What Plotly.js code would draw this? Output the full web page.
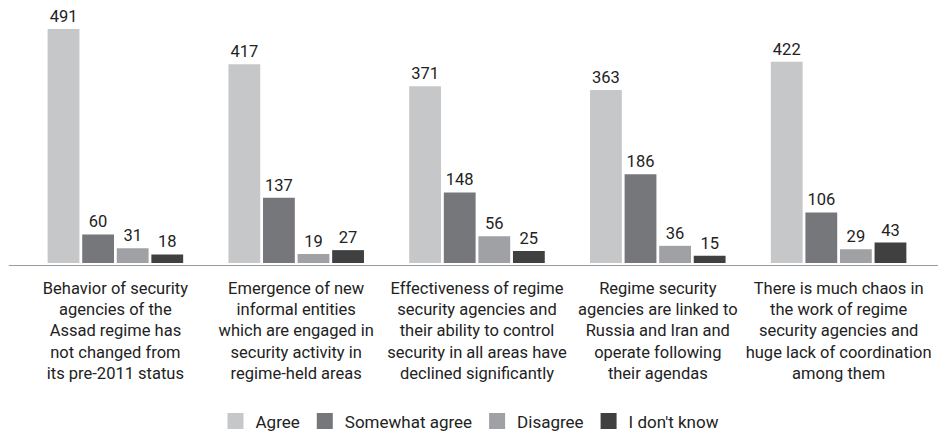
<!DOCTYPE html>
<html>
<head>
<meta charset="utf-8">
<script src="https://cdn.plot.ly/plotly-3.0.1.min.js"></script>
<style>html,body{margin:0;padding:0;background:#fff;}#chart{width:940px;height:434px;}</style>
</head>
<body>
<div id="chart"></div>
<script>
const categories = [
  "Behavior of security<br>agencies of the<br>Assad regime has<br>not changed from<br>its pre-2011 status",
  "Emergence of new<br>informal entities<br>which are engaged in<br>security activity in<br>regime-held areas",
  "Effectiveness of regime<br>security agencies and<br>their ability to control<br>security in all areas have<br>declined significantly",
  "Regime security<br>agencies are linked to<br>Russia and Iran and<br>operate following<br>their agendas",
  "There is much chaos in<br>the work of regime<br>security agencies and<br>huge lack of coordination<br>among them"
];
const seriesNames = ["Agree", "Somewhat agree", "Disagree", "I don't know"];
const agree = [491, 417, 371, 363, 422];
const somewhatAgree = [60, 137, 148, 186, 106];
const disagree = [31, 19, 56, 36, 29];
const dontKnow = [18, 27, 25, 15, 43];
const colors = ["#c6c7c9", "#76777b", "#a0a1a4", "#404040"];

const seriesValues = [agree, somewhatAgree, disagree, dontKnow];
const fam = "Roboto, 'Noto Sans', sans-serif";

const traces = [];
seriesValues.forEach((vals, i) => {
  traces.push({
    type: "bar",
    name: seriesNames[i],
    x: categories,
    y: vals,
    marker: {color: colors[i]},
    text: vals.map(String),
    textposition: "outside",
    textfont: {family: fam, size: 16.5, color: "#222"},
    cliponaxis: false,
    showlegend: false,
    hoverinfo: "y+name"
  });
});
// legend entries with larger square swatches
seriesNames.forEach((n, i) => {
  traces.push({
    type: "scatter",
    mode: "markers",
    name: n,
    x: [null],
    y: [null],
    marker: {symbol: "square", size: 16, color: colors[i]},
    showlegend: true,
    hoverinfo: "skip"
  });
});

const layout = {
  width: 940,
  height: 434,
  margin: {l: 25, r: 11, t: 10, b: 168, autoexpand: false},
  paper_bgcolor: "#fff",
  plot_bgcolor: "#fff",
  font: {family: fam, size: 16, color: "#222"},
  barmode: "group",
  bargap: 0.235,
  bargroupgap: 0.08,
  showlegend: true,
  legend: {
    orientation: "h",
    x: 0.5, xanchor: "center", xref: "container",
    y: -0.607, yanchor: "middle", yref: "paper",
    font: {family: fam, size: 17, color: "#222"},
    traceorder: "normal",
    bgcolor: "rgba(0,0,0,0)"
  },
  xaxis: {
    type: "category",
    showgrid: false,
    zeroline: false,
    showline: false,
    ticks: "",
    ticklabelstandoff: 10,
    tickfont: {family: fam, size: 16.5, color: "#222"},
    tickangle: 0,
    automargin: false
  },
  yaxis: {
    range: [-6.3, 530.8],
    visible: false,
    showgrid: false,
    zeroline: false
  },
  shapes: [{
    type: "line",
    xref: "paper", yref: "y",
    x0: -0.018, x1: 1.01,
    y0: -6.3, y1: -6.3,
    line: {color: "#7a7a7a", width: 1.5}
  }]
};

Plotly.newPlot("chart", traces, layout, {displayModeBar: false, staticPlot: true});
</script>
</body>
</html>
